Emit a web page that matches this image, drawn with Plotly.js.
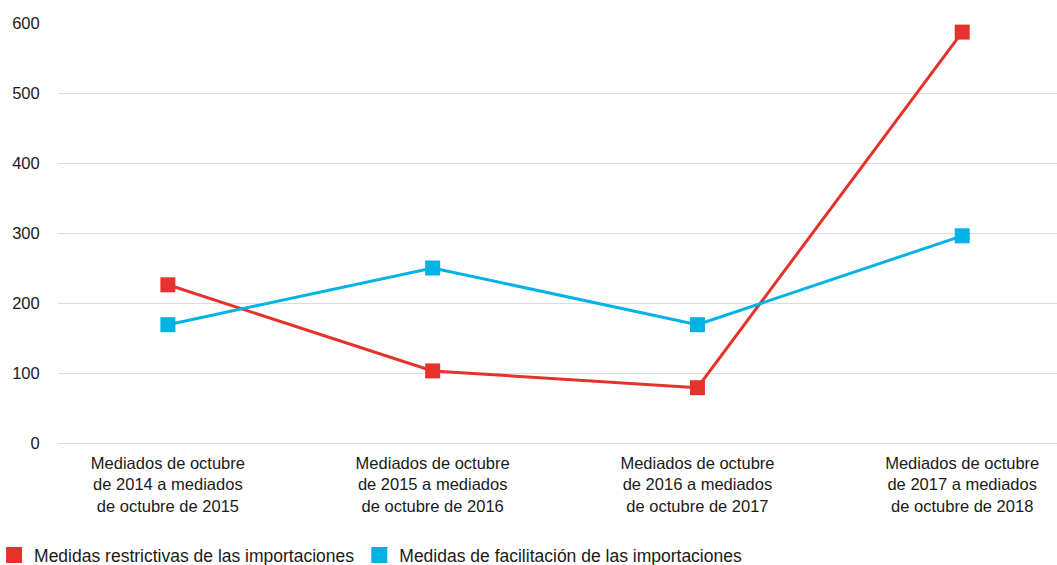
<!DOCTYPE html>
<html>
<head>
<meta charset="utf-8">
<script src="https://cdn.plot.ly/plotly-3.0.1.min.js"></script>
<style>html,body{margin:0;padding:0;background:#fff;}#chart{width:1057px;height:565px;}</style>
</head>
<body>
<div id="chart"></div>
<script>
const categories = [
  "Mediados de octubre<br>de 2014 a mediados<br>de octubre de 2015",
  "Mediados de octubre<br>de 2015 a mediados<br>de octubre de 2016",
  "Mediados de octubre<br>de 2016 a mediados<br>de octubre de 2017",
  "Mediados de octubre<br>de 2017 a mediados<br>de octubre de 2018"
];
const restrictivas = [226, 103, 79, 587];
const facilitacion = [169, 250, 169, 296];
const seriesNames = ["Medidas restrictivas de las importaciones", "Medidas de facilitación de las importaciones"];
const yTicks = [0, 100, 200, 300, 400, 500, 600];

const red = "#e5322a";
const blue = "#00b2e5";
const idx = categories.map((c, i) => i);

const traces = [
  {x: idx, y: restrictivas, mode: "lines+markers", line: {color: red, width: 3}, marker: {symbol: "square", size: 15, color: red}, showlegend: false, name: seriesNames[0]},
  {x: idx, y: facilitacion, mode: "lines+markers", line: {color: blue, width: 3}, marker: {symbol: "square", size: 15, color: blue}, showlegend: false, name: seriesNames[1]},
  {x: [null], y: [null], mode: "markers", marker: {symbol: "square", size: 16, color: red}, name: seriesNames[0], showlegend: true},
  {x: [null], y: [null], mode: "markers", marker: {symbol: "square", size: 16, color: blue}, name: seriesNames[1], showlegend: true}
];

const layout = {
  width: 1057, height: 565,
  margin: {l: 58, r: 0, t: 23, b: 122, autoexpand: false},
  paper_bgcolor: "#fff", plot_bgcolor: "#fff",
  font: {family: "Liberation Sans, Arial, sans-serif", size: 16.5, color: "#1a1a1a"},
  xaxis: {
    range: [-0.415, 3.358],
    tickvals: idx, ticktext: categories,
    showgrid: false, zeroline: false, showline: false,
    ticks: "outside", ticklen: 5, tickcolor: "rgba(0,0,0,0)",
    tickfont: {size: 16.5}
  },
  yaxis: {
    range: [0, 600], tickvals: yTicks,
    showgrid: true, gridcolor: "#dcdcdc", gridwidth: 1,
    zeroline: true, zerolinecolor: "#dcdcdc", zerolinewidth: 1, showline: false,
    ticks: "outside", ticklen: 14, tickcolor: "rgba(0,0,0,0)",
    tickfont: {size: 16.5}
  },
  legend: {
    orientation: "h", x: -0.064, xanchor: "left", y: -0.267, yanchor: "middle",
    font: {size: 17.5}, itemwidth: 30, bgcolor: "rgba(0,0,0,0)"
  },
  showlegend: true
};

Plotly.newPlot("chart", traces, layout, {displayModeBar: false, staticPlot: true});
</script>
</body>
</html>
